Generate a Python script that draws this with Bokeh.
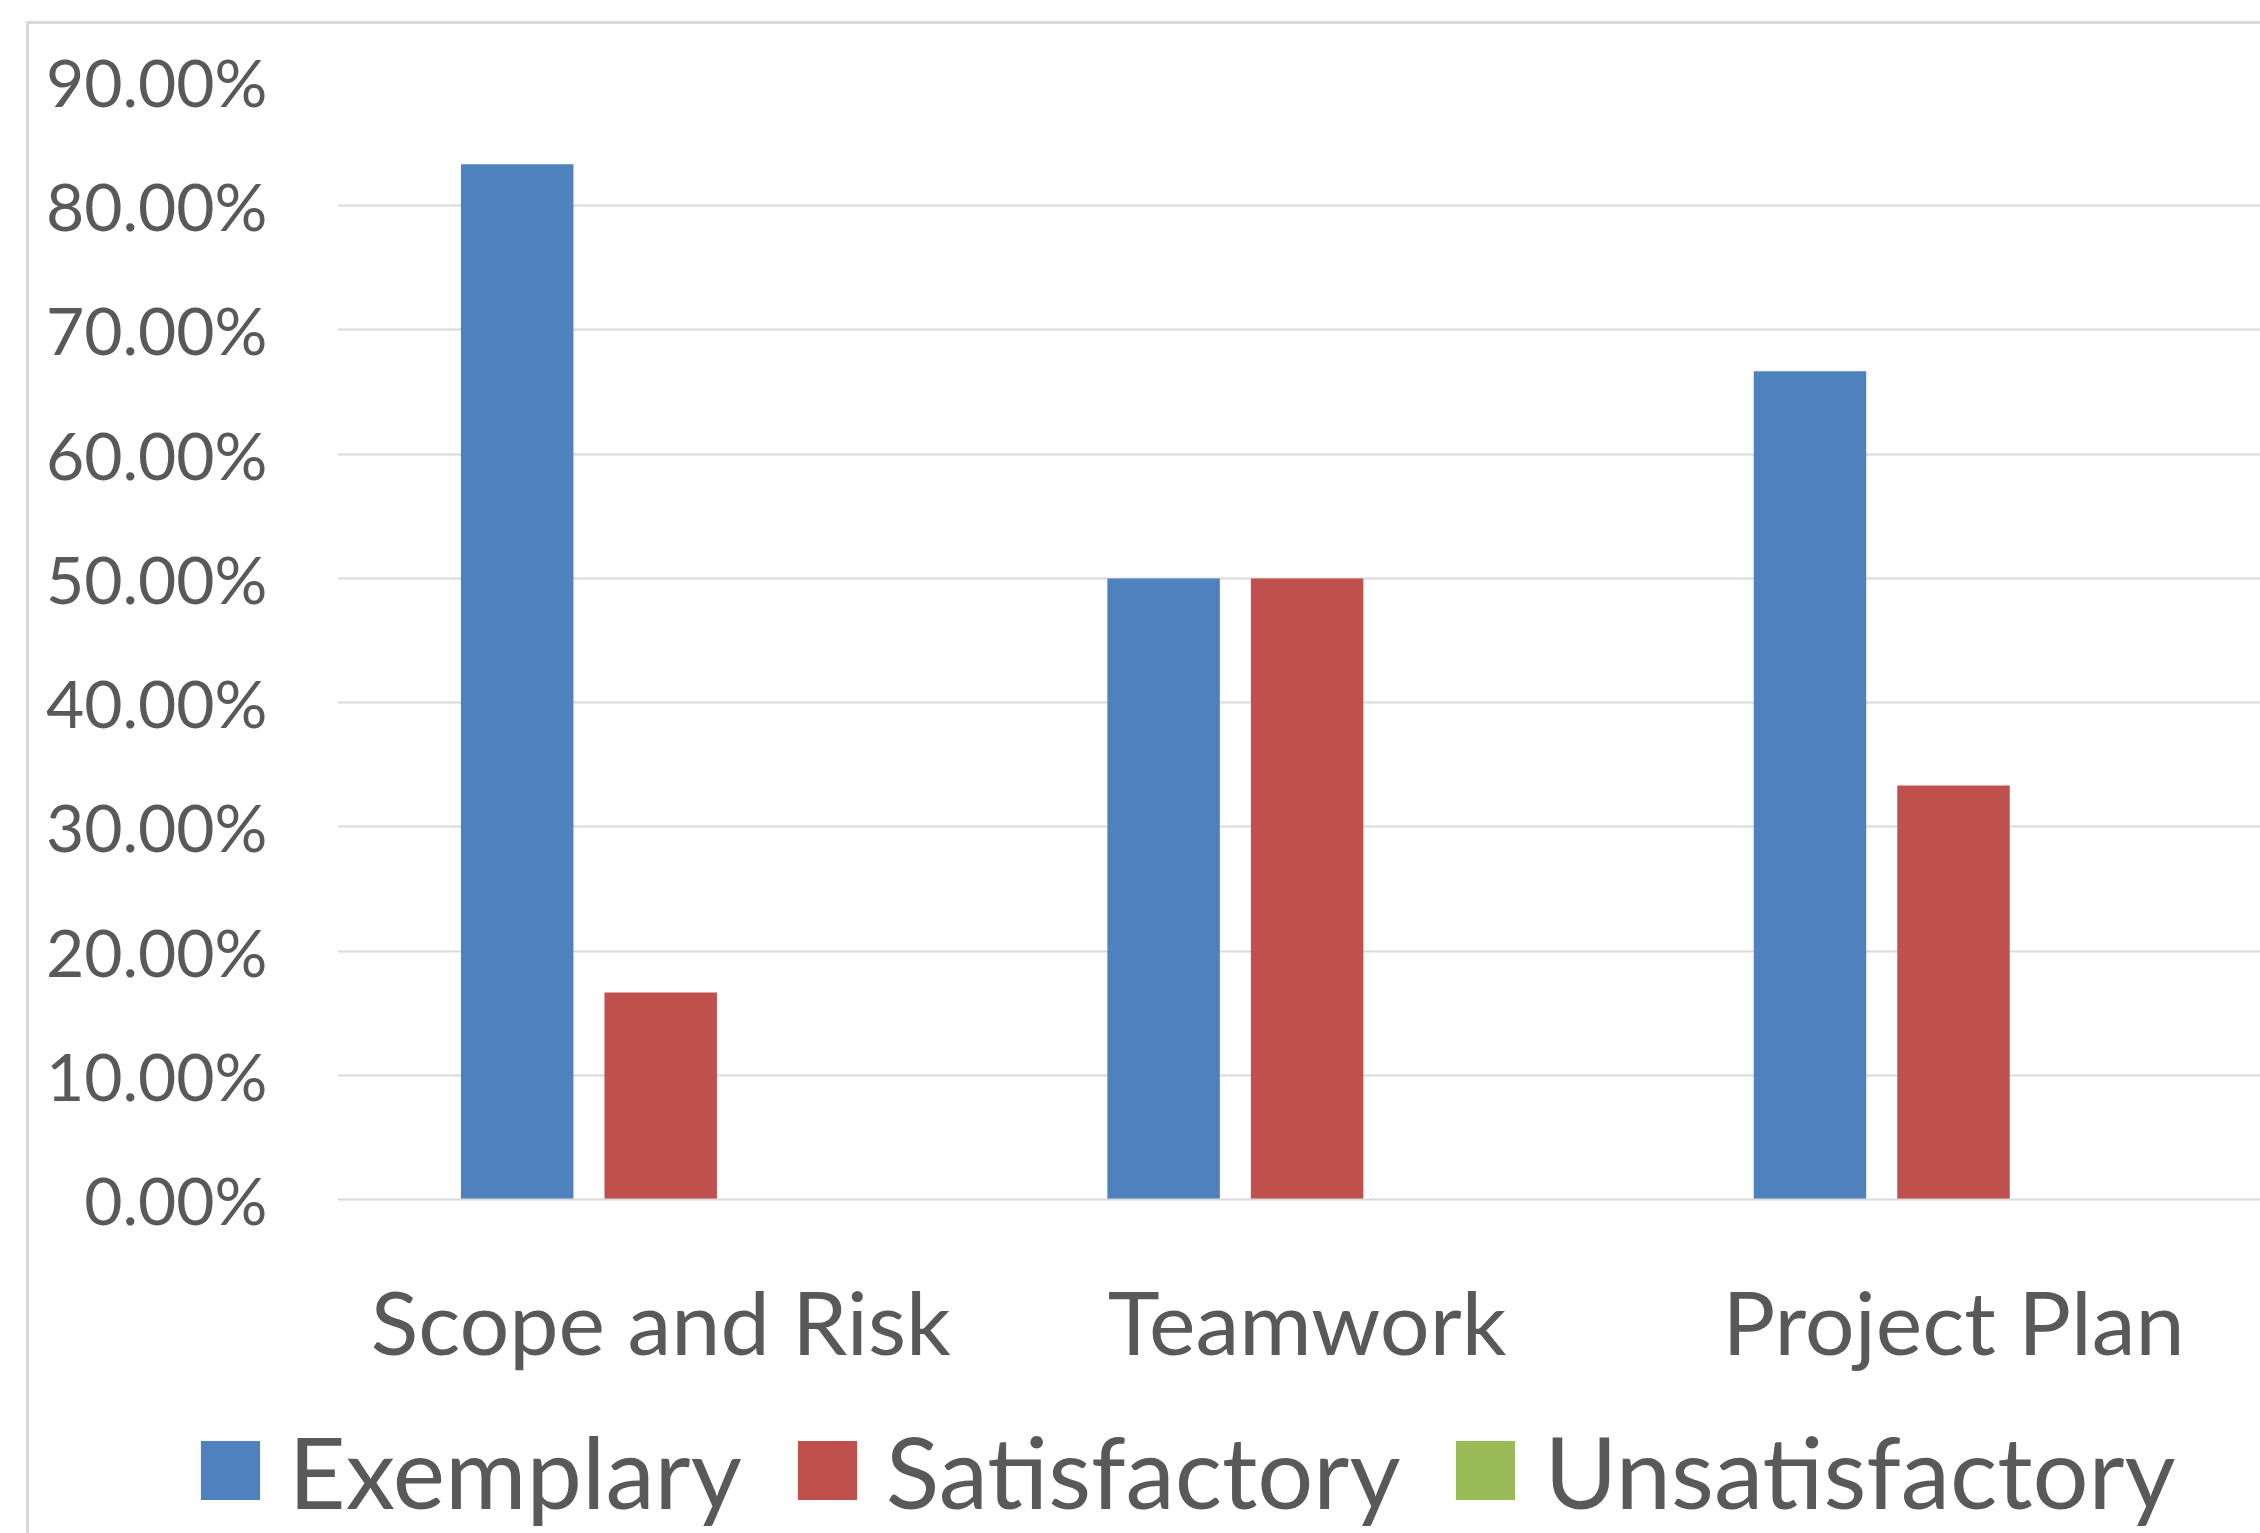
from bokeh.plotting import figure
from bokeh.layouts import column
from bokeh.models import (ColumnDataSource, Range1d, FixedTicker, NumeralTickFormatter,
                          Legend, LegendItem)
from bokeh.embed import file_html
from bokeh.resources import INLINE

categories = ["Scope and Risk", "Teamwork", "Project Plan"]
series_names = ["Exemplary", "Satisfactory", "Unsatisfactory"]
exemplary = [0.8333, 0.50, 0.6667]
satisfactory = [0.1667, 0.50, 0.3333]
unsatisfactory = [0.0, 0.0, 0.0]
y_ticks = [0.0, 0.1, 0.2, 0.3, 0.4, 0.5, 0.6, 0.7, 0.8, 0.9]

colors = ["#4F81BD", "#C0504D", "#9BBB59"]
offsets = [-0.222, 0.0, 0.222]
bar_w = 0.174
TXT = "#595959"
GRID = "#D9D9D9"
FONT = "Lato"

W = 2260
H1, H2 = 1380, 153
left_b, top_b = 337, 81
bot_b = H1 - 1199
x_end = (W - left_b) / 646.4

p = figure(width=W, height=H1, output_backend="svg", toolbar_location=None,
           x_range=Range1d(0, x_end), y_range=Range1d(0, 0.9),
           min_border_left=left_b, min_border_right=0, min_border_top=top_b,
           min_border_bottom=bot_b)
p.outline_line_color = None
p.background_fill_color = "white"
p.border_fill_color = None
p.styles = {
    "background-image": "linear-gradient(#d9d9d9, #d9d9d9), linear-gradient(#d9d9d9, #d9d9d9)",
    "background-repeat": "no-repeat",
    "background-size": "100% 3px, 3px 100%",
    "background-position": "26px 21px, 26px 21px",
}

xs = [i + 0.5 for i in range(len(categories))]
renderers = []
for vals, off, col in zip([exemplary, satisfactory, unsatisfactory], offsets, colors):
    src = ColumnDataSource(dict(x=[v + off for v in xs], top=vals))
    r = p.vbar(x="x", top="top", bottom=0, width=bar_w, source=src,
               fill_color=col, line_color=None)
    renderers.append(r)

p.xaxis.ticker = FixedTicker(ticks=xs)
p.xaxis.major_label_overrides = {x: c for x, c in zip(xs, categories)}
p.xaxis.major_label_text_font = FONT
p.xaxis.major_label_text_font_size = "88px"
p.xaxis.major_label_text_color = TXT
p.xaxis.major_label_standoff = 62
p.xaxis.major_tick_line_color = None
p.xaxis.minor_tick_line_color = None
p.xaxis.axis_line_color = GRID
p.xaxis.axis_line_width = 2

p.yaxis.ticker = FixedTicker(ticks=y_ticks)
p.yaxis.formatter = NumeralTickFormatter(format="0.00%")
p.yaxis.major_label_text_font = FONT
p.yaxis.major_label_text_font_size = "66px"
p.yaxis.major_label_text_color = TXT
p.yaxis.major_label_standoff = 64
p.yaxis.major_tick_line_color = None
p.yaxis.minor_tick_line_color = None
p.yaxis.axis_line_color = None

p.xgrid.grid_line_color = None
p.ygrid.grid_line_color = GRID
p.ygrid.grid_line_width = 2

# legend strip (separate figure so the legend can sit left of the plot frame)
pl = figure(width=W, height=H2, output_backend="svg", toolbar_location=None,
            x_range=Range1d(0, 1), y_range=Range1d(0, 1),
            min_border_left=0, min_border_right=0, min_border_top=0, min_border_bottom=0)
pl.axis.visible = False
pl.grid.visible = False
pl.outline_line_color = None
pl.background_fill_color = None
pl.border_fill_color = None
pl.styles = {
    "background-image": "linear-gradient(#d9d9d9, #d9d9d9)",
    "background-repeat": "no-repeat",
    "background-size": "3px 100%",
    "background-position": "26px 0px",
}
for fig in (p, pl):
    if "frame_align" in fig.properties():
        fig.frame_align = False

leg_renderers = []
for col in colors:
    r = pl.vbar(x=[5.0], top=[0.0], width=0.1, fill_color=col, line_color=None)
    leg_renderers.append(r)

legend = Legend(items=[LegendItem(label=n, renderers=[r]) for n, r in zip(series_names, leg_renderers)],
                orientation="horizontal", location=(192.6, 3.4),
                glyph_width=74, glyph_height=74, label_standoff=22, spacing=48,
                padding=0, margin=0, border_line_color=None, background_fill_alpha=0,
                label_text_font=FONT, label_text_font_size="99px", label_text_color=TXT,
                label_text_baseline="alphabetic")
pl.add_layout(legend, "center")

layout = column(p, pl, spacing=0)
open("out.html", "w").write(file_html(layout, INLINE))
